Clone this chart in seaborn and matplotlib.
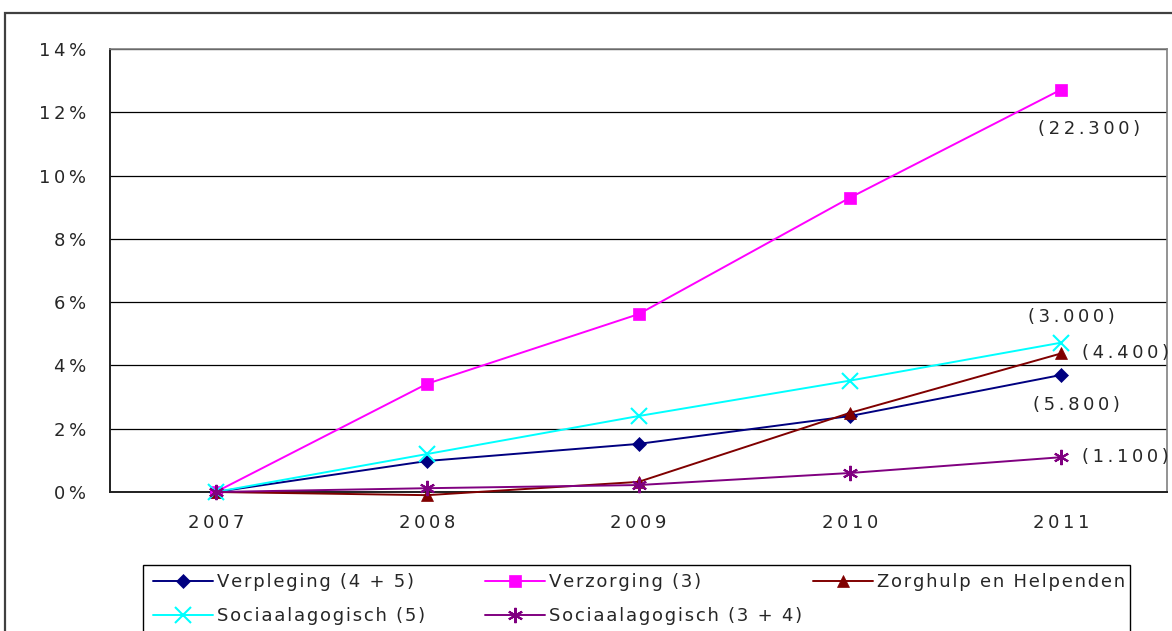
import matplotlib
matplotlib.use("Agg")
import matplotlib.pyplot as plt
import matplotlib.ticker as mticker
from matplotlib.patches import Rectangle
import seaborn as sns
import pandas as pd

years = ["2007", "2008", "2009", "2010", "2011"]
verpleging = [0.0, 0.98, 1.52, 2.4, 3.7]
verzorging = [0.0, 3.42, 5.62, 9.3, 12.72]
zorghulp = [0.0, -0.1, 0.32, 2.5, 4.38]
sociaal_5 = [0.0, 1.2, 2.4, 3.52, 4.72]
sociaal_34 = [0.0, 0.12, 0.22, 0.6, 1.1]

series_names = ["Verpleging (4 + 5)", "Verzorging (3)", "Zorghulp en Helpenden",
                "Sociaalagogisch (5)", "Sociaalagogisch (3 + 4)"]
end_labels = ["(5.800)", "(22.300)", "(4.400)", "(3.000)", "(1.100)"]

colors = ["#000080", "#FF00FF", "#800000", "#00FFFF", "#800080"]
markers = ["D", "s", "^", "x", (6, 2, 0)]
msizes = [7, 8, 9, 11, 11]


def spaced(s, sep="\u2009"):
    # fake the wide letter spacing of the original
    return sep.join(s)


sns.set_style("white")
plt.rcParams["font.family"] = ["DejaVu Sans"]

fig = plt.figure(figsize=(11.72, 6.31), dpi=100)
ax = fig.add_axes([110 / 1172, 139 / 631, 1057 / 1172, 443 / 631])

df = pd.DataFrame({"x": range(len(years))})
all_vals = [verpleging, verzorging, zorghulp, sociaal_5, sociaal_34]
for name, vals, c, m, ms in zip(series_names, all_vals, colors, markers, msizes):
    sns.lineplot(x=df["x"], y=vals, ax=ax, color=c, marker=m, markersize=ms,
                 markeredgecolor=c, markeredgewidth=1.5 if m == "x" or isinstance(m, tuple) else 0.5,
                 linewidth=1.4, label=spaced(name, "\u200a"), clip_on=False, zorder=3)

# end-of-line labels: (x offset, y offset, alignment)
offsets = [(0.07, -0.95, "center"), (0.13, -1.25, "center"), (0.1, 0.0, "left"),
           (0.05, 0.8, "center"), (0.1, 0.0, "left")]
for vals, lab, (dx, dy, ha) in zip(all_vals, end_labels, offsets):
    ax.text(4 + dx, vals[-1] + dy, spaced(lab), ha=ha, va="center", fontsize=13)

ax.set_xlim(-0.5, 4.5)
ax.set_ylim(0, 14)
ax.yaxis.set_major_locator(mticker.MultipleLocator(2))
ax.yaxis.set_major_formatter(mticker.FuncFormatter(lambda v, p: spaced(f"{int(v)}%")))
ax.set_xticks([i - 0.5 for i in range(len(years) + 1)])
ax.set_xticklabels([])
ax.set_xticks(range(len(years)), minor=True)
ax.set_xticklabels([spaced(y) for y in years], minor=True)
ax.tick_params(axis="x", which="major", direction="out", length=6, width=1, color="#404040")
ax.tick_params(axis="x", which="minor", length=0, pad=16, labelsize=13)
ax.tick_params(axis="y", direction="out", length=5, width=1, color="#404040", labelsize=13, pad=12)
ax.grid(axis="y", color="#000000", linewidth=0.9)
ax.set_axisbelow(True)
ax.set_xlabel("")
ax.set_ylabel("")
for side in ["top", "right"]:
    ax.spines[side].set_color("#808080")
    ax.spines[side].set_linewidth(1.2)
for side in ["left", "bottom"]:
    ax.spines[side].set_color("#202020")
    ax.spines[side].set_linewidth(1.4)

handles, labels = ax.get_legend_handles_labels()
ax.legend_.remove()

# legend: equal width columns like the original, one legend per column
columns = [[0, 3], [1, 4], [2]]
col_x = [145, 477, 805]
for idx, x0 in zip(columns, col_x):
    lg = fig.legend([handles[i] for i in idx], [labels[i] for i in idx], ncol=1,
                    loc="upper left", bbox_to_anchor=(x0 / 1172, 66 / 631), frameon=False,
                    fontsize=13, handlelength=3.3, handletextpad=0.25,
                    borderaxespad=0, borderpad=0.45, labelspacing=0.9)
fig.patches.append(Rectangle((143 / 1172, -0.1), (1130 - 143) / 1172, 0.1 + 66 / 631,
                             transform=fig.transFigure, fill=False,
                             edgecolor="#000000", linewidth=1.0))

fig.patches.append(Rectangle((5 / 1172, -0.1), 1.2, (631 - 13) / 631 + 0.1,
                             transform=fig.transFigure, fill=False,
                             edgecolor="#404040", linewidth=1.6, zorder=0))

fig.savefig("out.png", dpi=100)
